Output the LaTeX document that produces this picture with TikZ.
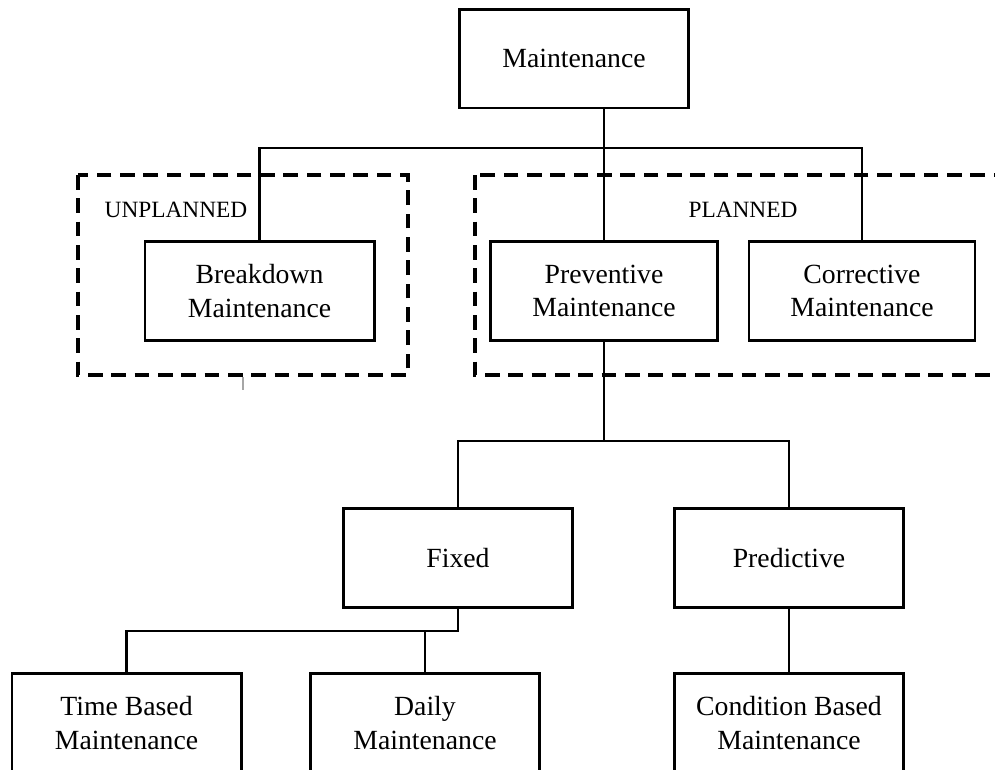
\documentclass[tikz,border=0pt]{standalone}
\usepackage{fontspec}
\setmainfont{Liberation Serif}
\begin{document}
\begin{tikzpicture}[x=0.75pt,y=-0.75pt,
		blk/.style={draw, line width=2pt, minimum width=172pt, minimum height=74pt, align=center, inner sep=0pt, font=\fontsize{20.8}{25}\selectfont},
		grp/.style={line width=2.4pt, dash pattern=on 11pt off 6.5pt},
		grplabel/.style={font=\fontsize{17.5}{20}\selectfont, inner sep=0pt},
		conn/.style={line width=2pt}]
			\useasboundingbox (0,0) rectangle (995,769);
			\clip (0,0) rectangle (995,769);
			
			% groups
			\draw[grp] (78,175) rectangle (408,375);
			\draw[grp] (475,175) rectangle (1020,375);
			\node[grplabel] (unpl) at (176,210) {UNPLANNED};
			\node[grplabel] (pl) at (743,210) {PLANNED};
			\draw[gray!70, line width=0.8pt] (243,377) -- (243,390);
			
			% boxes
			\node[blk] (main) at (574,58.5) {Maintenance};
			\node[blk] (brk) at (259.5,291) {Breakdown\\Maintenance};
			\node[blk, minimum width=170pt] (prev) at (604,291) {Preventive\\Maintenance};
			\node[blk, minimum width=169.5pt] (cor) at (862,291) {Corrective\\Maintenance};
			\node[blk] (fix) at (458,558) {Fixed};
			\node[blk] (pred) at (789,558) {Predictive};
			\node[blk] (tb) at (126.5,723) {Time Based\\Maintenance};
			\node[blk] (daily) at (425,723) {Daily\\Maintenance};
			\node[blk] (cond) at (789,723) {Condition Based\\Maintenance};
			
			% tree
			\coordinate (bus1) at (604,148);
			\coordinate (bus2) at (604,441);
			\coordinate (bus3) at (458,631);
			\draw[conn] (main.south -| bus1) -- (prev.north);
			\draw[conn] (brk.north) |- (bus1) -| (cor.north);
			\draw[conn] (prev.south) -- (bus2);
			\draw[conn] (fix.north) |- (bus2) -| (pred.north);
			\draw[conn] (fix.south) -- (bus3) -| (tb.north);
			\draw[conn] (daily.north) -- (daily.north |- bus3);
			\draw[conn] (pred.south) -- (cond.north);
		\end{tikzpicture}
\end{document}
